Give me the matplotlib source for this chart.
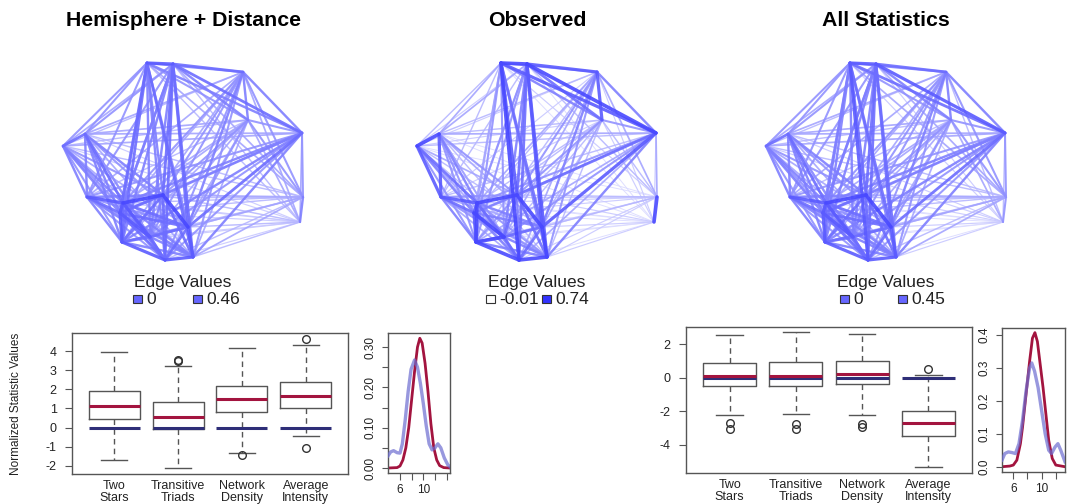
import numpy as np
import matplotlib
matplotlib.use('Agg')
import matplotlib.pyplot as plt
from matplotlib.collections import LineCollection
from matplotlib.patches import Rectangle

plt.rcParams['font.family'] = ['Liberation Sans', 'DejaVu Sans']

W, H = 1072, 504

# ---------------- data ----------------
titles = ["Hemisphere + Distance", "Observed", "All Statistics"]

# node layout (pixel units of the first panel), shared by the three networks
node_x = [147, 173, 243, 302, 63, 85, 248, 303, 300, 87, 123, 163, 120, 188, 122, 150, 165, 193]
node_y = [63, 64, 72, 133, 146, 134, 120, 197, 222, 197, 203, 195, 213, 227, 242, 237, 260, 257]

# edge strength levels (0-9), upper triangle, row i -> nodes i+1..n-1
w_hemi = ["86655543566767667", "7745643567676677", "634654455464555", "44554566576556",
          "7332665645544", "432676656554", "54345454444", "6334343334", "223232223",
          "86756655", "9877876", "797677", "78876", "6778", "786", "76", "8"]
w_obs = ["95834621348475596", "8924731357485678", "623842245363445", "34542357484546",
         "9211874635433", "311865545443", "32235343333", "9223232222", "112121112",
         "85746544", "9869765", "695767", "68965", "5779", "996", "76", "9"]
w_all = ["86755542567676686", "7845642567676677", "634653455464555", "44553566576556",
         "7332665645544", "432676656554", "54345454444", "5334343334", "112121112",
         "86756655", "9877876", "797677", "78876", "6778", "786", "76", "8"]

legend_title = "Edge Values"
legend_lo = ["0", "-0.01", "0"]
legend_hi = ["0.46", "0.74", "0.45"]

box_labels = ["Two\nStars", "Transitive\nTriads", "Network\nDensity", "Average\nIntensity"]

# Hemisphere + Distance statistics
hd_q1 = [0.45, -0.07, 0.80, 1.01]
hd_med = [1.15, 0.57, 1.51, 1.67]
hd_q3 = [1.90, 1.32, 2.19, 2.36]
hd_lo = [-1.68, -2.10, -1.30, -0.42]
hd_hi = [3.96, 3.23, 4.15, 4.33]
hd_fliers = [[], [3.47, 3.52], [-1.43], [4.64, -1.05]]
hd_obs = [0, 0, 0, 0]

# All Statistics
as_q1 = [-0.47, -0.50, -0.36, -3.45]
as_med = [0.08, 0.08, 0.25, -2.68]
as_q3 = [0.89, 0.95, 1.02, -1.96]
as_lo = [-2.22, -2.17, -2.22, -5.32]
as_hi = [2.55, 2.70, 2.60, 0.18]
as_fliers = [[-2.72, -3.06], [-2.74, -3.08], [-2.78, -2.92], [0.52]]
as_obs = [0, 0, 0, 0]

# density curves
d1_red_x = [4.0, 5.5, 6.0, 6.5, 7.0, 7.5, 8.0, 8.5, 9.0, 9.4, 9.8, 10.3, 10.8, 11.3, 11.8, 12.3, 12.8, 13.5, 14.5]
d1_red_y = [0.0, 0.001, 0.005, 0.02, 0.05, 0.10, 0.17, 0.24, 0.30, 0.322, 0.31, 0.26, 0.19, 0.11, 0.05, 0.02, 0.006, 0.001, 0.0]
d1_blue_x = [3.94, 4.4, 4.9, 5.5, 6.0, 6.4, 6.9, 7.4, 7.9, 8.5, 9.0, 9.5, 10.0, 10.5, 11.0, 11.5, 12.0, 12.5, 13.0, 13.6, 14.2, 14.58]
d1_blue_y = [0.030, 0.040, 0.043, 0.038, 0.037, 0.06, 0.12, 0.19, 0.245, 0.268, 0.25, 0.21, 0.16, 0.105, 0.06, 0.045, 0.05, 0.06, 0.05, 0.025, 0.008, 0.003]

d2_red_x = [4.4, 5.5, 6.0, 6.5, 7.0, 7.3, 7.8, 8.3, 8.7, 9.05, 9.4, 9.8, 10.2, 10.6, 11.0, 11.5, 12.0, 13.3]
d2_red_y = [0.0, 0.002, 0.005, 0.02, 0.07, 0.12, 0.22, 0.32, 0.39, 0.407, 0.38, 0.31, 0.24, 0.16, 0.08, 0.025, 0.005, 0.0]
d2_blue_x = [4.4, 4.8, 5.3, 5.8, 6.3, 6.8, 7.3, 7.8, 8.3, 8.6, 9.0, 9.5, 10.0, 10.5, 11.0, 11.4, 11.9, 12.3, 12.7, 13.3]
d2_blue_y = [0.02, 0.04, 0.045, 0.043, 0.04, 0.07, 0.14, 0.23, 0.30, 0.315, 0.29, 0.24, 0.17, 0.10, 0.05, 0.04, 0.06, 0.07, 0.05, 0.015]

# ---------------- drawing ----------------
fig = plt.figure(figsize=(W / 100, H / 100), dpi=100)


def ax_px(x0, y0, x1, y1):
    return fig.add_axes([x0 / W, 1 - y1 / H, (x1 - x0) / W, (y1 - y0) / H])


BLUE = np.array([0.27, 0.27, 1.0])
RED = '#A3143F'
LAV = '#6c6cd0'
GC = '#555555'


def draw_net(ax, rows):
    n = len(node_x)
    segs, ws = [], []
    for i, row in enumerate(rows):
        for k, ch in enumerate(row):
            j = i + 1 + k
            if j >= n:
                continue
            segs.append([(node_x[i], node_y[i]), (node_x[j], node_y[j])])
            ws.append(int(ch))
    order = np.argsort(ws, kind='stable')
    cols, lws, ss = [], [], []
    for idx in order:
        t = ws[idx] / 9.0
        a = 0.10 + 0.88 * t
        c = 1 - (1 - BLUE) * a
        cols.append((c[0], c[1], c[2], 0.9))
        lws.append(0.6 + 2.0 * t ** 1.4)
        ss.append(segs[idx])
    lc = LineCollection(ss, colors=cols, linewidths=lws, capstyle='round')
    ax.add_collection(lc)


offsets = [0, 354, 703]
weights = [w_hemi, w_obs, w_all]
for p in range(3):
    dx = offsets[p]
    ax = ax_px(55 + dx, 55, 310 + dx, 268)
    ax.set_xlim(55, 310)
    ax.set_ylim(268, 55)
    ax.axis('off')
    draw_net(ax, weights[p])

# overlay for titles and legends (pixel coordinates)
ov = fig.add_axes([0, 0, 1, 1], zorder=10)
ov.set_xlim(0, W)
ov.set_ylim(H, 0)
ov.axis('off')

title_x = [183, 537, 886]
for p in range(3):
    ov.text(title_x[p], 20, titles[p], ha='center', va='center', fontsize=15.3, fontweight='bold')
    ov.text(title_x[p], 282, legend_title, ha='center', va='center', fontsize=12.5, color='#222222')

leg_sq = [(137, 197), (490, 546), (844, 902)]
leg_fill = [((0.4, 0.4, 1.0), (0.4, 0.4, 1.0)), ((1, 1, 1), (0.2, 0.2, 1.0)), ((0.4, 0.4, 1.0), (0.4, 0.4, 1.0))]
for p in range(3):
    s1, s2 = leg_sq[p]
    for sx, fc, lab in [(s1, leg_fill[p][0], legend_lo[p]), (s2, leg_fill[p][1], legend_hi[p])]:
        ov.add_patch(Rectangle((sx - 4.5, 295), 9, 8, facecolor=fc, edgecolor='#333333', lw=0.8))
        ov.text(sx + 9, 299.5, lab, ha='left', va='center', fontsize=12.5, color='#222222')


def style_spines(ax):
    for s in ax.spines.values():
        s.set_color(GC)
        s.set_linewidth(1)
    ax.tick_params(colors=GC, labelcolor='#222222')


def boxpanel(rect, q1, med, q3, lo, hi, fl, obs, ylim, yticks):
    ax = ax_px(*rect)
    stats = [dict(q1=q1[i], med=med[i], q3=q3[i], whislo=lo[i], whishi=hi[i], fliers=fl[i])
             for i in range(4)]
    pos = [1, 2, 3, 4]
    ax.hlines(obs, [x - 0.4 for x in pos], [x + 0.4 for x in pos], colors='#2e2e78', lw=2.2, zorder=2.5)
    ax.bxp(stats, positions=pos, widths=0.8, capwidths=0.4, showfliers=True,
           boxprops=dict(color=GC, lw=1),
           whiskerprops=dict(color=GC, lw=1, linestyle=(0, (4, 3))),
           capprops=dict(color=GC, lw=1),
           medianprops=dict(color=RED, lw=2.2, zorder=3),
           flierprops=dict(marker='o', markerfacecolor='none', markeredgecolor='#333333', markersize=5.5, markeredgewidth=1))
    ax.set_xlim(0.34, 4.66)
    ax.set_ylim(*ylim)
    ax.set_xticks(pos)
    ax.set_xticklabels(box_labels, fontsize=9, linespacing=1.05)
    ax.tick_params(axis='x', length=0, pad=4)
    ax.set_yticks(yticks)
    ax.set_yticklabels([str(v) for v in yticks], fontsize=9)
    ax.tick_params(axis='y', length=5, pad=6)
    style_spines(ax)
    return ax


bx1 = boxpanel((72, 333, 348, 474), hd_q1, hd_med, hd_q3, hd_lo, hd_hi, hd_fliers, hd_obs,
               (-2.42, 4.94), [-2, -1, 0, 1, 2, 3, 4])
bx1.set_ylabel("Normalized Statistic Values", fontsize=8.5, color='#222222')
bx1.yaxis.set_label_coords(-0.18, 0.5)

boxpanel((686, 327, 972, 473), as_q1, as_med, as_q3, as_lo, as_hi, as_fliers, as_obs,
         (-5.67, 3.02), [-4, -2, 0, 2])


def denspanel(rect, rx, ry, bx, by, xlim, ylim, xt, xtl, yt, ytl):
    ax = ax_px(*rect)
    ax.plot(rx, ry, color=RED, lw=2.0, zorder=2)
    ax.plot(bx, by, color=LAV, lw=2.4, alpha=0.7, zorder=3)
    ax.set_xlim(*xlim)
    ax.set_ylim(*ylim)
    ax.set_xticks(xt)
    ax.set_xticklabels(xtl, fontsize=8.5)
    ax.set_yticks(yt)
    ax.set_yticklabels(ytl, fontsize=8.5)
    ax.tick_params(axis='x', length=5, pad=3)
    ax.tick_params(axis='y', length=4, pad=4)
    for lab in ax.get_yticklabels():
        lab.set_rotation(90)
        lab.set_va('center')
    style_spines(ax)
    return ax


denspanel((388, 333, 450, 473), d1_red_x, d1_red_y, d1_blue_x, d1_blue_y,
          (3.94, 14.58), (-0.0124, 0.335), [6, 8, 10, 12, 14], ['6', '', '10', '', ''],
          [0, 0.05, 0.10, 0.15, 0.20, 0.25, 0.30], ['0.00', '', '0.10', '', '0.20', '', '0.30'])
denspanel((1002, 328, 1065, 472), d2_red_x, d2_red_y, d2_blue_x, d2_blue_y,
          (4.4, 13.3), (-0.016, 0.421), [6, 8, 10, 12], ['6', '', '10', ''],
          [0, 0.1, 0.2, 0.3, 0.4], ['0.0', '0.1', '0.2', '0.3', '0.4'])

fig.savefig('out.png', dpi=100)
